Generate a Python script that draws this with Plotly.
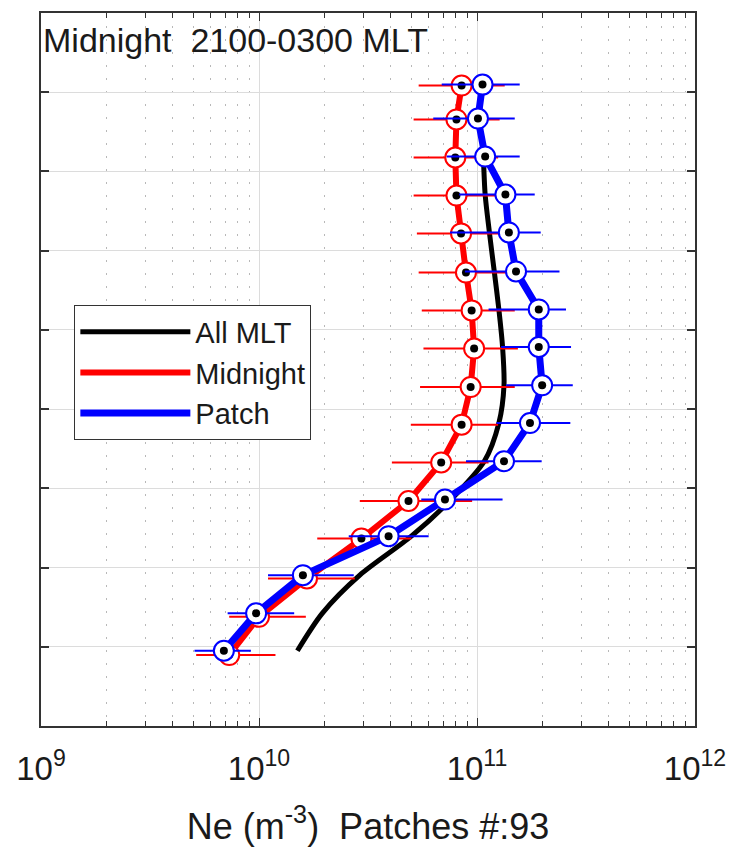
import plotly.graph_objects as go

# ---- data (bottom -> top) ----
alt_patch = [147.5, 171.1, 195.2, 219.8, 242.9, 267.1, 291.2, 315.0,
             339.2, 362.9, 386.9, 411.5, 435.4, 459.4, 483.4, 504.8]
alt_mid = [144.8, 168.9, 193.1, 218.3, 242.0, 266.3, 290.2, 313.9,
           338.2, 362.3, 386.2, 410.9, 434.8, 458.8, 482.8, 504.2]

ne_mid = [7.3e9, 1.0e10, 1.66e10, 2.95e10, 4.85e10, 6.85e10, 8.5e10, 9.35e10,
          9.7e10, 9.45e10, 8.9e10, 8.45e10, 8.05e10, 7.95e10, 8.05e10, 8.5e10]
mid_lo = [5.15e9, 7.3e9, 1.1e10, 1.85e10, 2.9e10, 4.07e10, 4.97e10, 5.48e10,
          5.68e10, 5.58e10, 5.4e10, 5.3e10, 5.12e10, 5.12e10, 5.12e10, 5.4e10]
mid_hi = [1.19e10, 1.64e10, 2.75e10, 5.0e10, 9.5e10, 1.13e11, 1.25e11, 1.49e11,
          1.54e11, 1.49e11, 1.41e11, 1.29e11, 1.23e11, 1.25e11, 1.27e11, 1.34e11]

ne_patch = [6.9e9, 9.7e9, 1.59e10, 3.93e10, 7.13e10, 1.33e11, 1.75e11, 1.99e11,
            1.92e11, 1.92e11, 1.51e11, 1.40e11, 1.35e11, 1.09e11, 1.01e11, 1.06e11]
patch_lo = [5.06e9, 7.18e9, 1.1e10, 2.58e10, 5.55e10, 8.9e10, 1.23e11, 1.36e11,
            1.29e11, 1.13e11, 8.8e10, 7.52e10, 8.28e10, 7.26e10, 6.3e10, 6.89e10]
patch_hi = [9.18e9, 1.45e10, 2.72e10, 6.0e10, 1.31e11, 1.98e11, 2.68e11, 2.75e11,
            2.7e11, 2.56e11, 2.39e11, 1.96e11, 1.84e11, 1.57e11, 1.49e11, 1.57e11]

alt_all = [147.5, 171.1, 195.2, 219.8, 242.9, 267.1, 291.2, 315.0,
           339.2, 362.9, 386.9, 411.5, 435.4, 459.4]
ne_all = [1.5e10, 1.95e10, 2.9e10, 5.0e10, 7.6e10, 1.08e11, 1.26e11, 1.33e11,
          1.31e11, 1.26e11, 1.2e11, 1.14e11, 1.09e11, 1.07e11]

x_tickvals = [1e9, 1e10, 1e11, 1e12]
x_ticktext = ["10<sup>9</sup>", "10<sup>10</sup>", "10<sup>11</sup>", "10<sup>12</sup>"]
x_minor = [m * d for d in (1e9, 1e10, 1e11) for m in range(2, 10)]
y_tickvals = [150, 200, 250, 300, 350, 400, 450, 500]

FONT = "Liberation Sans, Arial, Helvetica, sans-serif"
TXT = "#1a1a1a"

fig = go.Figure()

# All MLT
fig.add_trace(go.Scatter(x=ne_all, y=alt_all, mode="lines", name="All MLT",
                         line=dict(color="black", width=5, shape="spline", smoothing=0.8)))

def add_series(name, x, y, lo, hi, color, lw):
    fig.add_trace(go.Scatter(x=x, y=y, mode="lines", name=name,
                             line=dict(color=color, width=lw)))
    fig.add_trace(go.Scatter(
        x=x, y=y, mode="markers", showlegend=False,
        marker=dict(symbol="circle", size=20, color="white",
                    line=dict(color=color, width=2)),
        error_x=dict(type="data", symmetric=False,
                     array=[h - v for h, v in zip(hi, x)],
                     arrayminus=[v - l for v, l in zip(x, lo)],
                     color=color, thickness=2, width=0)))
    fig.add_trace(go.Scatter(x=x, y=y, mode="markers", showlegend=False,
                             marker=dict(symbol="circle", size=8, color="black")))

add_series("Midnight", ne_mid, alt_mid, mid_lo, mid_hi, "#ff0000", 6)
add_series("Patch", ne_patch, alt_patch, patch_lo, patch_hi, "#0000ff", 7)

fig.add_annotation(text="Midnight\u00a0 2100-0300 MLT", xref="paper", yref="paper",
                   x=0, y=1, xanchor="left", yanchor="top", xshift=0, yshift=-6,
                   showarrow=False, font=dict(family=FONT, size=34, color=TXT))

fig.update_layout(
    width=749, height=866,
    margin=dict(l=41, r=54, t=13, b=140),
    paper_bgcolor="white", plot_bgcolor="white",
    font=dict(family=FONT, color=TXT),
    showlegend=True,
    legend=dict(x=0.051, y=0.59, xanchor="left", yanchor="top",
                bgcolor="white", bordercolor="#333333", borderwidth=1,
                font=dict(family=FONT, size=29, color=TXT),
                itemwidth=110, tracegroupgap=0,
                entrywidth=248, entrywidthmode="pixels"),
    xaxis=dict(type="log", range=[9, 12],
               tickmode="array", tickvals=x_tickvals, ticktext=x_ticktext,
               tickfont=dict(family=FONT, size=33, color=TXT),
               ticklabelstandoff=13,
               ticks="inside", ticklen=8, tickcolor="#333333", tickwidth=1,
               showline=True, linecolor="#333333", linewidth=1.5, mirror="ticks",
               showgrid=True, gridcolor="#dcdcdc", gridwidth=1,
               minor=dict(tickmode="array", tickvals=x_minor, ticks="inside",
                          ticklen=5, tickcolor="#333333", showgrid=True,
                          gridcolor="#b8b8b8", griddash="2px,11px", gridwidth=1),
               zeroline=False,
               title=dict(text="Ne (m<sup>-3</sup>)\u00a0 Patches #:93",
                          font=dict(family=FONT, size=36, color=TXT), standoff=27)),
    yaxis=dict(range=[100, 550], tickmode="array", tickvals=y_tickvals,
               showticklabels=False, ticks="inside", ticklen=8,
               tickcolor="#333333", tickwidth=1.5,
               showline=True, linecolor="#333333", linewidth=1.5, mirror="ticks",
               showgrid=True, gridcolor="#dcdcdc", gridwidth=1, zeroline=False),
)

fig.write_html("out.html")
